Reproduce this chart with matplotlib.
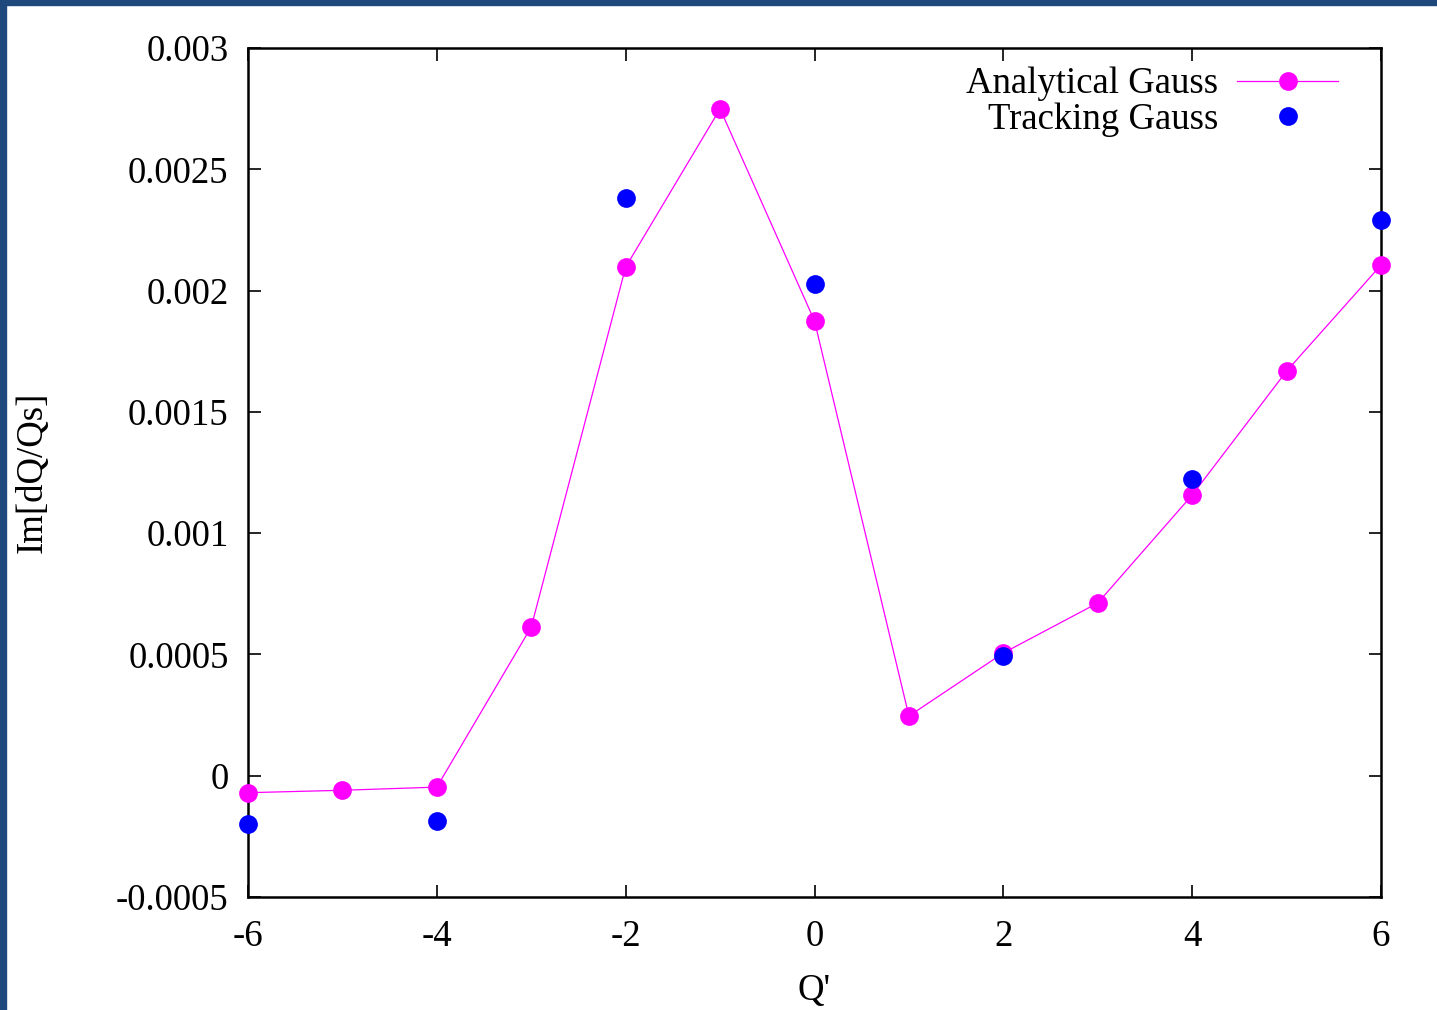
import numpy as np
import matplotlib
matplotlib.use('Agg')
import matplotlib.pyplot as plt
from matplotlib.patches import Rectangle
from matplotlib.ticker import FuncFormatter

plt.rcParams['font.family'] = ['Liberation Serif', 'DejaVu Serif']

# Analytical Gauss (line + points)
q_analytical = [-6, -5, -4, -3, -2, -1, 0, 1, 2, 3, 4, 5, 6]
im_analytical = [-0.00007, -0.00006, -0.000047, 0.000613, 0.002097, 0.002749,
                 0.001875, 0.000246, 0.000506, 0.000712, 0.001157, 0.001668, 0.002105]

# Tracking Gauss (points only)
q_tracking = [-6, -4, -2, 0, 2, 4, 6]
im_tracking = [-0.000199, -0.000187, 0.002382, 0.002027, 0.000494, 0.001223, 0.002291]

x_ticks = [-6, -4, -2, 0, 2, 4, 6]
y_ticks = [-0.0005, 0, 0.0005, 0.001, 0.0015, 0.002, 0.0025, 0.003]

fig = plt.figure(figsize=(14.37, 10.10), dpi=100)
ax = fig.add_axes([248/1437, 113/1010, 1133/1437, 849/1010])

ax.plot(q_analytical, im_analytical, color='#ff00ff', lw=0.9, marker='o',
        markersize=13.5, markeredgewidth=0, label='Analytical Gauss', clip_on=False, zorder=3)
ax.plot(q_tracking, im_tracking, color='#0000ff', lw=0, marker='o',
        markersize=13.5, markeredgewidth=0, label='Tracking Gauss', clip_on=False, zorder=4)

ax.set_xlim(-6, 6)
ax.set_ylim(-0.0005, 0.003)
ax.set_xticks(x_ticks)
ax.set_yticks(y_ticks)
fmt = FuncFormatter(lambda v, p: '%g' % v)
ax.xaxis.set_major_formatter(fmt)
ax.yaxis.set_major_formatter(fmt)

ax.tick_params(direction='in', length=9, width=1.2, top=True, right=True,
               labelsize=26.5)
ax.tick_params(axis='x', pad=16)
ax.tick_params(axis='y', pad=14)
for s in ax.spines.values():
    s.set_linewidth(1.8)

ax.set_xlabel("Q'", fontsize=26.5, labelpad=14)
ax.set_ylabel('Im[dQ/Qs]', fontsize=26.5, labelpad=48)

leg = ax.legend(loc='upper right', bbox_to_anchor=(0.985, 1.008), frameon=False,
                fontsize=26.5, markerfirst=False, handlelength=2.75,
                numpoints=1, labelspacing=0.02, handletextpad=0.5,
                borderaxespad=0.3)
for t in leg.get_texts():
    t.set_ha('right')

# slide-style border on top and left
border = '#1f497d'
fig.patches.append(Rectangle((0, 1 - 5/1010), 1, 5/1010, transform=fig.transFigure,
                             color=border, zorder=10))
fig.patches.append(Rectangle((0, 0), 6/1437, 1, transform=fig.transFigure,
                             color=border, zorder=10))

fig.savefig('out.png', dpi=100)
